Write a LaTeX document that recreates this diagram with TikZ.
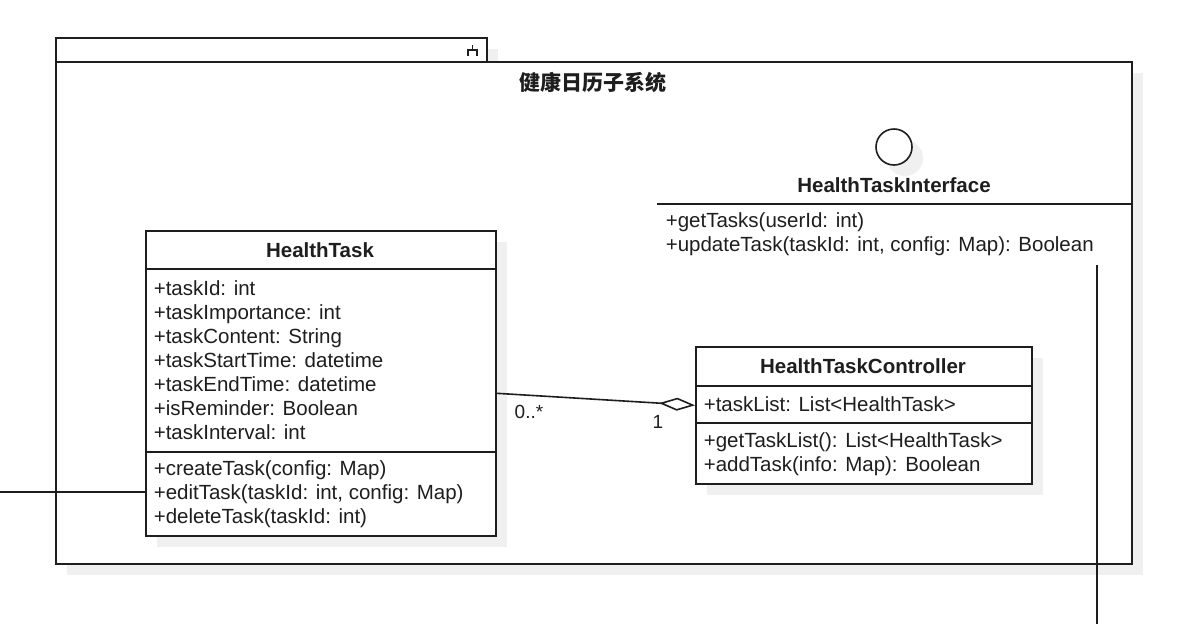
\documentclass[tikz,border=0pt]{standalone}
\usepackage{fontspec}
\setmainfont{Liberation Sans}
\newfontfamily\cjk{Noto Sans CJK SC}
\usetikzlibrary{shadows,arrows.meta}
\definecolor{ink}{RGB}{30,30,30}
\definecolor{shade}{RGB}{240,240,240}

\begin{document}
\begin{tikzpicture}[x=1pt,y=-1pt,line width=1.6pt,draw=ink,
  box/.style={draw=ink,fill=white,anchor=north west,inner sep=0pt,
    drop shadow={shadow xshift=11pt,shadow yshift=-11pt,fill=shade,opacity=1}},
  txt/.style={font=\fontsize{20.5}{24}\selectfont,text=ink,inner sep=0pt,align=left,anchor=base west},
  hd/.style={font=\fontsize{20.5}{24}\selectfont\bfseries,text=ink,inner sep=0pt,anchor=base},
  lbl/.style={font=\fontsize{19}{22}\selectfont,text=ink,inner sep=0pt}]
\useasboundingbox (0,0) rectangle (1186,624);
% package
\node[box,minimum width=431pt,minimum height=24pt] (pkgtab) at (55,37) {};
\node[box,minimum width=1076pt,minimum height=502pt] (pkg) at (55,61) {};
\draw[line width=1.4pt] (468,56) -- (468,50) -- (477,50) -- (477,56) (472.5,50) -- (472.5,45);
\node[font=\fontsize{21}{24}\selectfont\cjk\bfseries,text=ink] (title) at (593,82) {健康日历子系统};
% interface
\node[box,circle,minimum size=36pt,anchor=center] (lollipop) at (894,147) {};
\node[hd] (iname) at (894,192) {HealthTaskInterface};
\coordinate (ileft) at (657,204);
\draw (ileft) -- (ileft -| pkg.east);
% base = last line
\node[txt] (iops) at (665,251) {+getTasks(userId: int)\\+updateTask(taskId: int, config: Map): Boolean};
% HealthTask
\node[box,minimum width=350pt,minimum height=305pt] (task) at (145,230) {};
\node[hd] (tname) at (320,257) {HealthTask};
\draw (task.west |- 0,269) -- (task.east |- 0,269);
\draw (task.west |- 0,452) -- (task.east |- 0,452);
\node[txt] (tattr) at (153,439) {+taskId: int\\+taskImportance: int\\+taskContent: String\\+taskStartTime: datetime\\+taskEndTime: datetime\\+isReminder: Boolean\\+taskInterval: int};
\node[txt] (tops) at (153,523) {+createTask(config: Map)\\+editTask(taskId: int, config: Map)\\+deleteTask(taskId: int)};
% HealthTaskController
\node[box,minimum width=336pt,minimum height=137pt] (ctrl) at (695,346) {};
\node[hd] (cname) at (863,373) {HealthTaskController};
\draw (ctrl.west |- 0,386) -- (ctrl.east |- 0,386);
\draw (ctrl.west |- 0,423) -- (ctrl.east |- 0,423);
\node[txt] (cattr) at (703,411) {+taskList: List<HealthTask>};
\node[txt] (cops) at (703,471) {+getTaskList(): List<HealthTask>\\+addTask(info: Map): Boolean};
% links
\draw[-{Diamond[open,fill=white,length=36pt,width=13pt]}] ([yshift=-10pt]task.east) -- ([yshift=10pt]ctrl.west);
\node[lbl] (many) at (529,412) {0..*};
\node[lbl] (one) at (658,422) {1};
\coordinate (lin) at (0,492);
\draw (lin) -- (lin -| task.west);
\coordinate (vtop) at (1097,265);
\coordinate (vbot) at (1097,624);
\draw (vtop) -- (vbot);
\end{tikzpicture}
\end{document}
